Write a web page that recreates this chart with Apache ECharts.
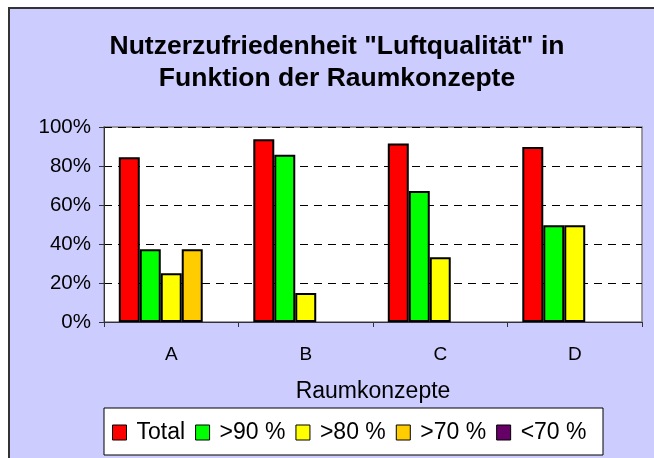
<!DOCTYPE html>
<html><head><meta charset="utf-8">
<script src="https://cdn.jsdelivr.net/npm/echarts@6/dist/echarts.min.js"></script>
<style>html,body{margin:0;padding:0;background:#fff;}#c{width:654px;height:458px;}</style>
</head><body><div id="c"></div>
<script>
var categories = ['A', 'B', 'C', 'D'];
var seriesNames = ['Total', '>90 %', '>80 %', '>70 %', '<70 %'];
var total = [84.5, 93.7, 91.6, 89.7];
var over90 = [37.3, 85.8, 67.2, 49.6];
var over80 = [25.0, 14.9, 33.2, 49.6];
var over70 = [37.3, 0, 0, 0];
var under70 = [0, 0, 0, 0];
var colors = ['#FF0000', '#00FF00', '#FFFF00', '#FFCC00', '#660066'];
var yTicks = [0, 20, 40, 60, 80, 100];

var dataSets = [total, over90, over80, over70, under70];
var font = 'Liberation Sans, Arial, sans-serif';
var chart = echarts.init(document.getElementById('c'), null, {renderer: 'canvas'});
var series = dataSets.map(function (d, i) {
  return {
    name: seriesNames[i], type: 'bar', data: d.map(function (v) { return v === 0 ? null : v; }),
    barGap: '0%', barCategoryGap: '22%',
    itemStyle: {color: colors[i], borderColor: '#000', borderWidth: 2},
    animation: false
  };
});
chart.setOption({
  backgroundColor: '#fff',
  animation: false,
  graphic: [
    {type: 'rect', z: -10, shape: {x: 9, y: 8, width: 660, height: 460}, style: {fill: '#CCCCFF', stroke: '#333', lineWidth: 2}},
    {type: 'rect', z: -5, shape: {x: 104, y: 408, width: 499, height: 47}, style: {fill: '#fff', stroke: '#000', lineWidth: 1}}
  ],
  title: {
    text: 'Nutzerzufriedenheit "Luftqualität" in\nFunktion der Raumkonzepte',
    left: 332, top: 26, textAlign: 'center',
    textStyle: {fontFamily: font, fontSize: 26.5, fontWeight: 'bold', color: '#000', lineHeight: 32}
  },
  legend: {
    data: seriesNames, left: 107, top: 416, itemWidth: 14, itemHeight: 15, itemGap: 10,
    icon: 'rect',
    itemStyle: {borderColor: '#000', borderWidth: 1},
    textStyle: {fontFamily: font, fontSize: 23, color: '#000', padding: [0, 0, 0, 5]}
  },
  grid: {left: 104, right: 12, top: 127, bottom: 136, show: true, backgroundColor: '#fff', borderColor: '#808080', borderWidth: 1.5},
  xAxis: {
    type: 'category', data: categories,
    axisLine: {lineStyle: {color: '#333', width: 1}},
    axisTick: {show: true, length: 5, lineStyle: {color: '#333'}},
    axisLabel: {fontFamily: font, fontSize: 19, color: '#000', margin: 23},
    name: 'Raumkonzepte', nameLocation: 'middle', nameGap: 58,
    nameTextStyle: {fontFamily: font, fontSize: 23, color: '#000'}
  },
  yAxis: {
    type: 'value', min: 0, max: 100, interval: 20,
    axisLine: {show: true, lineStyle: {color: '#333', width: 1}},
    axisTick: {show: true, length: 5, lineStyle: {color: '#333'}},
    axisLabel: {fontFamily: font, fontSize: 20.5, color: '#000', margin: 13,
      formatter: function (v) { return yTicks.indexOf(v) >= 0 ? v + '%' : ''; }},
    splitLine: {show: true, lineStyle: {color: '#000', type: [8, 6], width: 1}}
  },
  series: series
});
</script></body></html>
